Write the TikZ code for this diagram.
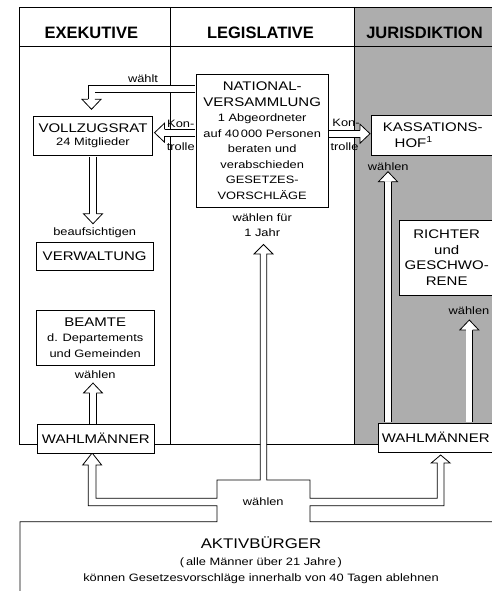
\documentclass[tikz,border=0pt]{standalone}
\usepackage{fontspec}
\setmainfont{Liberation Sans}[FakeStretch=1.2]
\newfontfamily\headfont{Liberation Sans}
\usetikzlibrary{positioning}
\definecolor{jurgrey}{gray}{0.68}
\newcommand{\smtxt}{\fontsize{10.7}{15.5}\selectfont}

\tikzset{
  box/.style={draw, fill=white, line width=0.8pt, inner sep=0pt, align=center, font=\fontsize{12.5}{15.5}\selectfont},
  lbl/.style={inner sep=0.5pt, font=\fontsize{10.7}{14.4}\selectfont},
  colhead/.style={font=\headfont\bfseries\fontsize{16.5}{18}\selectfont},
  fat/.style={draw, line width=0.8pt, double=white, double distance=6pt, shorten <=0.4pt},
  arrowhd/.pic={\draw[line width=0.8pt, fill=white] (-3.4,0) -- (-9.5,0) -- (0,-10) -- (9.5,0) -- (3.4,0);}
}

\begin{document}
\begin{tikzpicture}[x=1pt, y=-1pt, line width=0.8pt]
    \useasboundingbox (0,0) rectangle (492,591);
    \clip (0,0) rectangle (492,591);

    % Columns
    \fill[jurgrey] (354,7) rectangle (496,444);
    \draw (19,444) -- (19,7) -- (496,7);
    \draw (19,46) -- (496,46);
    \draw (170,7) -- (170,444);
    \draw (354,7) -- (354,444);
    \draw (19,444) -- (380,444);
    \node[colhead] (exe) at (91.3,32.5) {EXEKUTIVE};
    \node[colhead] (leg) at (260.5,32.5) {LEGISLATIVE};
    \node[colhead] (jur) at (424.5,32.5) {JURISDIKTION};

    % Aktivbuerger with the forked arrow
    \draw[fill=white] (20,600) -- (20,521.7) -- (217,521.7) -- (217,505.7) -- (88.3,505.7)
        -- (88.3,465) -- (82.7,465) -- (92.15,453) -- (101.6,465) -- (96,465)
        -- (96,498.3) -- (217,498.3) -- (217,480) -- (260.3,480)
        -- (260.3,254) -- (254,254) -- (263.5,244.5) -- (273,254) -- (266.7,254)
        -- (266.7,480) -- (310,480) -- (310,498.3) -- (437.3,498.3)
        -- (437.3,463) -- (431.2,463) -- (440.65,455) -- (450.1,463) -- (444,463)
        -- (444,505.7) -- (310,505.7) -- (310,521.7) -- (500,521.7);
    \node[align=center, font=\smtxt] (akt) at (261,560)
        {{\fontsize{14}{17}\selectfont AKTIVBÜRGER}\\[2pt](\,alle Männer über 21 Jahre\,)\\können Gesetzesvorschläge innerhalb von 40 Tagen ablehnen};

    % Exekutive
    \node[box, minimum width=119.4pt, minimum height=39.7pt] (vr) at (93,135.9) {VOLLZUGSRAT\\[-2.2pt]{\smtxt 24 Mitglieder}};
    \node[box, minimum width=117.3pt, minimum height=28.4pt] (verw) at (94.7,256.5) {VERWALTUNG};
    \node[box, minimum width=118.3pt, minimum height=55pt] (beamte) at (95.2,337.5) {BEAMTE\\{\smtxt d. Departements}\\{\smtxt und Gemeinden}};
    \node[box, minimum width=117pt, minimum height=28.5pt] (wmL) at (95.8,438.7) {WAHLMÄNNER};

    % Legislative
    \node[box, minimum width=132.3pt, minimum height=133.7pt] (nv) at (262.2,140.8)
        {NATIONAL-\\VERSAMMLUNG\\{\smtxt 1 Abgeordneter}\\{\smtxt auf 40\,000 Personen}\\{\smtxt beraten und}\\{\smtxt verabschieden}\\{\smtxt GESETZES-}\\{\smtxt VORSCHLÄGE}};

    % Jurisdiktion
    \node[box, minimum width=122.5pt, minimum height=40pt] (kass) at (432.7,135) {KASSATIONS-\\HOF\textsuperscript{1}\hspace*{38pt}};
    \node[box, minimum width=94.7pt, minimum height=75pt] (richter) at (446.7,257.5) {RICHTER\\und\\GESCHWO-\\RENE};
    \node[box, minimum width=114.7pt, minimum height=29pt] (wmR) at (435.7,437.5) {WAHLMÄNNER};

    % Arrows
    \coordinate (wk) at (91.5,88.9);
    \draw[fat] (nv.west |- wk) -- (wk) -- ++(0,10.4) coordinate (wb);
    \pic[rotate=180] at (wb) {arrowhd};
    \draw[fat] (vr.south) -- ++(0,57.6) coordinate (vb);
    \pic[rotate=180] at (vb) {arrowhd};
    \draw[fat] ([xshift=-2.8pt]wmL.north) -- ++(0,-31) coordinate (bb);
    \pic at (bb) {arrowhd};
    \coordinate (kl) at (164.5,132.7);
    \draw[fat] (nv.west |- kl) -- (kl);
    \pic[rotate=90] at (kl) {arrowhd};
    \coordinate (kr) at (360,133.7);
    \draw[fat] (nv.east |- kr) -- (kr);
    \pic[rotate=-90] at (kr) {arrowhd};
    \coordinate (kb) at (388,181.7);
    \draw[fat] (wmR.north -| kb) -- (kb);
    \pic at (kb) {arrowhd};
    \coordinate (rb) at (469.3,330);
    \draw[fat] (wmR.north -| rb) -- (rb);
    \pic at (rb) {arrowhd};

    % Labels
    \node[lbl] (lwaehlt) at (143,78.3) {wählt};
    \node[lbl, above=3pt of verw] (lbeauf) {beaufsichtigen};
    \node[lbl, below=4.5pt of beamte] (lwaehlenB) {wählen};
    \node[lbl, align=center, below=5pt of nv] (lwfuer) {wählen für\\1 Jahr};
    \node[lbl] (lkon1) at (180.8,124) {Kon-};
    \node[lbl] (ltrolle1) at (180.8,147) {trolle};
    \node[lbl] (lkon2) at (346,123.3) {Kon-};
    \node[lbl] (ltrolle2) at (344.5,146.7) {trolle};
    \node[lbl] (lwaehlenK) at (388.3,166.7) {wählen};
    \node[lbl] (lwaehlenR) at (469,311) {wählen};
    \node[lbl] (lwaehlenA) at (263.3,501.7) {wählen};
\end{tikzpicture}
\end{document}
